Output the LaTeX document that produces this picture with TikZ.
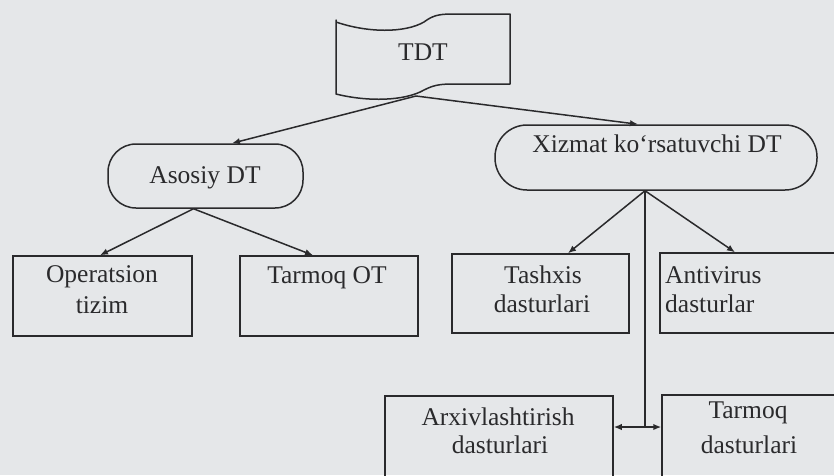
\documentclass[tikz,border=0pt]{standalone}
\usepackage{fontspec}
\setmainfont{Liberation Serif}
\usetikzlibrary{arrows.meta}
\definecolor{paper}{RGB}{229,231,233}
\definecolor{ink}{RGB}{42,42,44}
\tikzset{
  conn/.style={draw=ink, line width=1.5pt},
  arr/.style={conn, -{Latex[length=8pt,width=6.5pt]}},
  box/.style={draw=ink, line width=1.5pt, rectangle, inner sep=0pt},
  pill/.style={box, rounded corners=#1},
  lbl/.style={font=\fontsize{25.5}{30}\selectfont, text=ink, inner sep=0pt, anchor=base},
}
\begin{document}
\begin{tikzpicture}[x=1pt,y=-1pt]
\fill[paper] (0,0) rectangle (834,475);
\useasboundingbox (0,0) rectangle (834,475);

% top-level banner (punched-tape shape)
\draw[conn, line join=round]
  (336,20) -- (336,22)
  .. controls (368,33) and (405,33) .. (424,22)
  .. controls (432,16) and (438,14) .. (452,14)
  -- (510,14) -- (510,84) -- (452,84)
  .. controls (438,84) and (432,86) .. (424,90)
  .. controls (405,101) and (368,102) .. (336,94) -- cycle;
\node[lbl] (tdt) at (423,60) {TDT};
\coordinate (tdtb) at (416,96);

% second level
\node[pill=28pt, minimum width=195pt, minimum height=64pt] (asosiy) at (205.5,176) {};
\node[lbl] (asosiyt) at (205,183) {Asosiy DT};
\node[pill=32pt, minimum width=322pt, minimum height=65pt] (xizmat) at (656,157.5) {};
\node[lbl] (xizmatt) at (657,152) {Xizmat ko‘rsatuvchi DT};

% third level
\node[box, minimum width=179pt, minimum height=80pt] (os) at (102.5,296) {};
\node[lbl] (os1) at (102,282) {Operatsion};
\node[lbl] (os2) at (102,313) {tizim};

\node[box, minimum width=178pt, minimum height=80pt] (tot) at (329,296) {};
\node[lbl] (tot1) at (327,283) {Tarmoq OT};

\node[box, minimum width=177pt, minimum height=79pt] (tash) at (540.5,293.5) {};
\node[lbl] (tash1) at (543,283) {Tashxis};
\node[lbl] (tash2) at (542,312) {dasturlari};

\node[box, minimum width=190pt, minimum height=80pt] (anti) at (755,293) {};
\node[lbl, anchor=base west] (anti1) at (665,283) {Antivirus};
\node[lbl, anchor=base west] (anti2) at (665,312) {dasturlar};

% bottom row
\node[box, minimum width=228pt, minimum height=94pt] (arx) at (499,443) {};
\node[lbl] (arx1) at (498,425) {Arxivlashtirish};
\node[lbl] (arx2) at (500,453) {dasturlari};

\node[box, minimum width=188pt, minimum height=95pt] (tdas) at (756,442.5) {};
\node[lbl] (tdas1) at (748,418) {Tarmoq};
\node[lbl] (tdas2) at (749,453) {dasturlari};

% connectors
\draw[arr] (tdtb) -- ([xshift=26.5pt]asosiy.north);
\draw[arr] (tdtb) -- ([xshift=-18pt]xizmat.north);

\coordinate (ab) at ([xshift=-12pt]asosiy.south);
\draw[arr] (ab) -- ([xshift=-2.5pt]os.north);
\draw[arr] (ab) -- ([xshift=-16pt]tot.north);

\coordinate (xb) at ([xshift=-11pt]xizmat.south);
\draw[arr] (xb) -- ([xshift=27.5pt]tash.north);
\draw[arr] (xb) -- ([xshift=-20pt]anti.north);
\coordinate (jn) at (645,427);
\draw[conn] (xb) -- (jn);
\draw[arr] (jn) -- (jn -| arx.east);
\draw[arr] (jn) -- (jn -| tdas.west);
\end{tikzpicture}
\end{document}
